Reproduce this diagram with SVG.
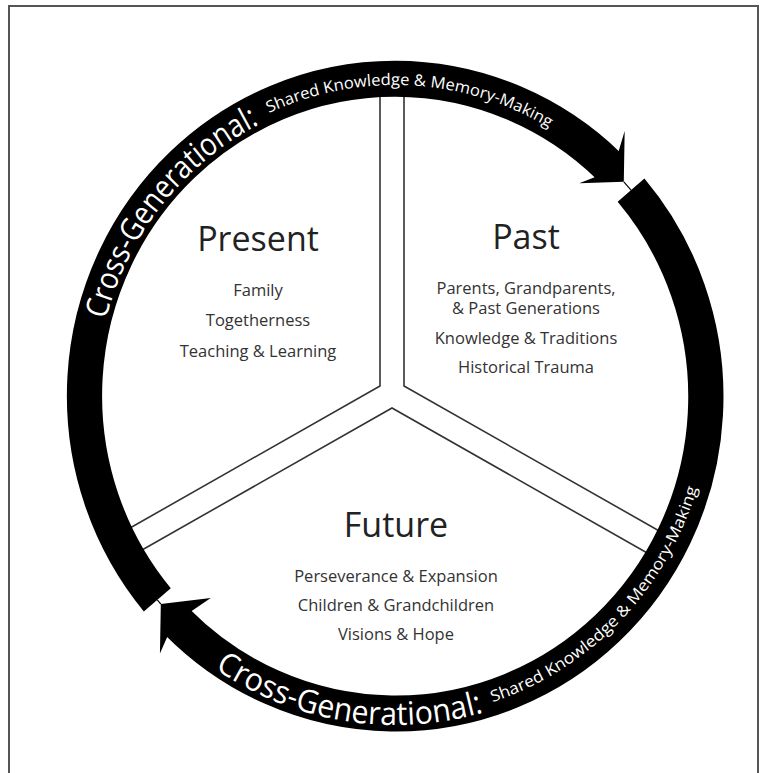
<svg xmlns="http://www.w3.org/2000/svg" width="766" height="773" viewBox="0 0 766 773">
<style>
.frame{fill:none;stroke:#555;stroke-width:2}
.div{fill:none;stroke:#333;stroke-width:1.6}
.band{fill:none;stroke:#000;stroke-width:36}
.head{fill:#000;stroke:none}
.thin{fill:none;stroke:#000;stroke-width:1.2}
.title{font-family:"Open Sans","Noto Sans",sans-serif;font-size:34px;fill:#222;text-anchor:middle}
.item{font-family:"Open Sans","Noto Sans",sans-serif;font-size:16.5px;fill:#333;text-anchor:middle}
.rbig{font-family:"Open Sans","Noto Sans",sans-serif;font-size:32px;fill:#fff}
.rsmall{font-family:"Open Sans","Noto Sans",sans-serif;font-size:16px;fill:#fff}
</style>
<defs>
<path id="tb" d="M -295.3,-76.4 A 305 305 0 0 1 -138.5,-271.8"/>
<path id="ts" d="M -129.0,-283.0 A 311 311 0 0 1 157.8,-268.0"/>
<path id="bb" d="M -184.0,272.7 A 329 329 0 0 0 90.7,316.3"/>
<path id="bs" d="M 99.5,306.2 A 322 322 0 0 0 308.7,91.5"/>
</defs>
<rect width="766" height="773" fill="#fff"/>
<path class="frame" d="M 9,773 V 6 H 758 V 773"/>
<g id="dividers">
<path class="div" d="M 380,85 V 386 L 130,528"/>
<path class="div" d="M 404,85 V 386 L 672,538.2"/>
<path class="div" d="M 142,550 L 392,408 L 664,562.5"/>
</g>
<g id="connectors" transform="translate(395,396) scale(0.979,1)">
<path class="band" d="M -242.8,203.8 A 317 317 0 0 1 218.2,-230.0"/>
<polygon class="head" points="228.5,-245.0 234.6,-265.1 233.7,-214.2 188.2,-212.7 203.9,-218.7"/>
<path class="thin" d="M 233.7,-214.2 A 317 317 0 0 1 241.1,-205.9"/>
<path class="band" d="M 241.1,-205.9 A 317 317 0 0 1 -222.2,226.1"/>
<polygon class="head" points="-232.7,241.0 -240.1,257.5 -239.2,208.0 -188.2,201.9 -207.7,215.1"/>
<path class="thin" d="M -239.2,208.0 A 317 317 0 0 1 -242.8,203.8"/>
<text class="rbig"><textPath href="#tb" textLength="258" lengthAdjust="spacingAndGlyphs">Cross-Generational:</textPath></text>
<text class="rsmall"><textPath href="#ts" textLength="298" lengthAdjust="spacingAndGlyphs">Shared Knowledge &amp; Memory-Making</textPath></text>
<text class="rbig"><textPath href="#bb" textLength="287" lengthAdjust="spacingAndGlyphs">Cross-Generational:</textPath></text>
<text class="rsmall"><textPath href="#bs" textLength="311" lengthAdjust="spacingAndGlyphs">Shared Knowledge &amp; Memory-Making</textPath></text>
</g>
<g id="node-present">
<text class="title" x="258" y="251">Present</text>
<text class="item" x="258" y="296">Family</text>
<text class="item" x="258" y="326">Togetherness</text>
<text class="item" x="258" y="357">Teaching &amp; Learning</text>
</g>
<g id="node-past">
<text class="title" x="526" y="249">Past</text>
<text class="item" x="526" y="294">Parents, Grandparents,</text>
<text class="item" x="526" y="314">&amp; Past Generations</text>
<text class="item" x="526" y="344">Knowledge &amp; Traditions</text>
<text class="item" x="526" y="373">Historical Trauma</text>
</g>
<g id="node-future">
<text class="title" x="396" y="537">Future</text>
<text class="item" x="396" y="582">Perseverance &amp; Expansion</text>
<text class="item" x="396" y="611">Children &amp; Grandchildren</text>
<text class="item" x="396" y="640">Visions &amp; Hope</text>
</g>
</svg>
